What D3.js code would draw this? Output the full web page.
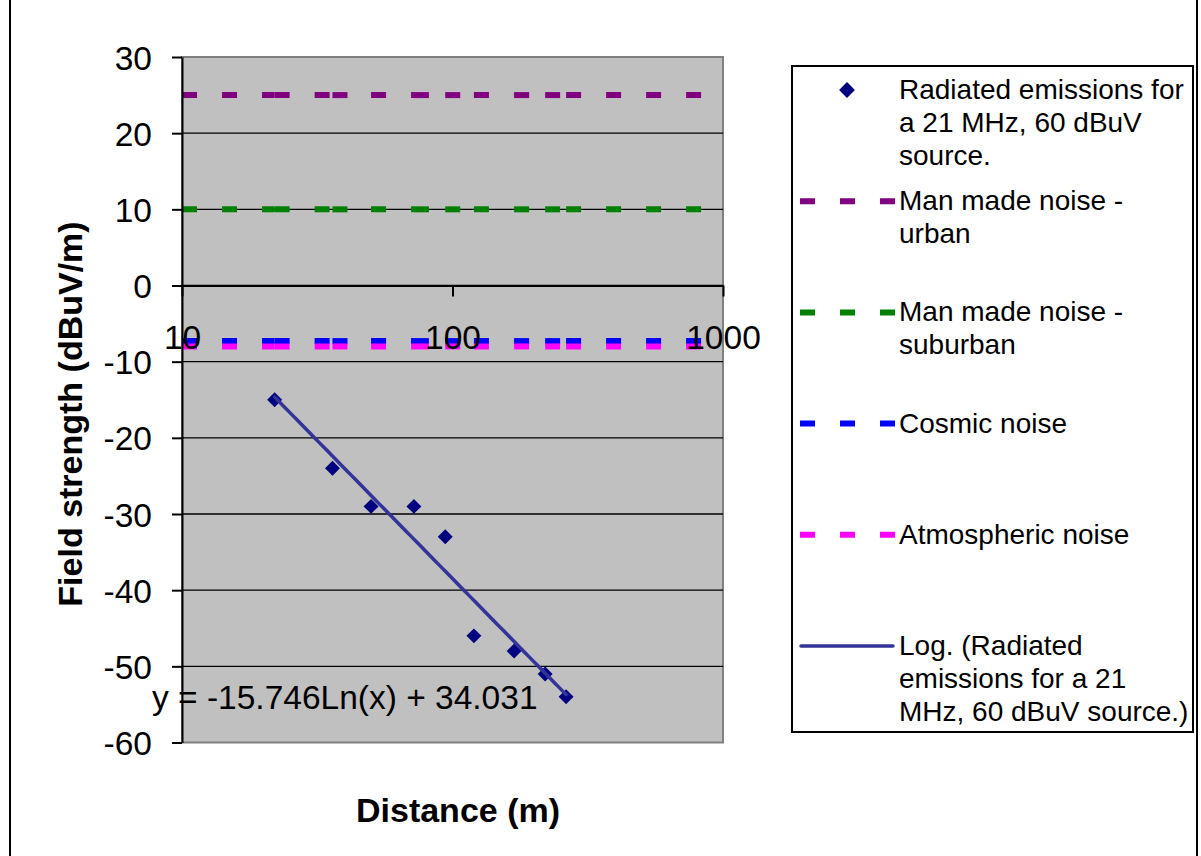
<!DOCTYPE html>
<html>
<head>
<meta charset="utf-8">
<script src="https://cdn.jsdelivr.net/npm/d3@7"></script>
<style>
  body { margin: 0; background: #fff; }
  text { font-family: "Liberation Sans", Arial, sans-serif; }
</style>
</head>
<body>
<div id="grafico"></div>
<script>
// Measured radiated emissions (distance in m, field strength in dBuV/m)
const distances = [22, 36, 50, 72, 94, 120, 169, 220, 263];
const fieldStrength = [-15, -24, -29, -29, -33, -46, -48, -51, -54];

// Noise reference series (constant level at each distance)
const noiseDistances = [10, 22, 36, 50, 72, 94, 120, 169, 220, 263, 900];
const noiseNames = ["urban", "suburban", "cosmic", "atmospheric"];
const noiseLevels = [25, 10, -7.3, -8.0];

// Logarithmic trendline coefficients: y = a Ln(x) + b
const trendCoef = [-15.746, 34.031];

// Axis ticks
const yTicks = [30, 20, 10, 0, -10, -20, -30, -40, -50, -60];
const xTicks = [10, 100, 1000];

// Legend texts
const legendLabels = [
    ["Radiated emissions for", "a 21 MHz, 60 dBuV", "source."],
    ["Man made noise -", "urban"],
    ["Man made noise -", "suburban"],
    ["Cosmic noise"],
    ["Atmospheric noise"],
    ["Log. (Radiated", "emissions for a 21", "MHz, 60 dBuV source.)"]
];

const noiseColors = ["#800080", "#008000", "#0000ff", "#ff00ff"];
const markerColor = "#000080";
const trendColor = "#333399";

const svg = d3.select("#grafico")
    .append("svg")
    .attr("width", 1201)
    .attr("height", 856);

// Chart area border
svg.append("rect")
    .attr("x", 10).attr("y", -10)
    .attr("width", 1187).attr("height", 880)
    .attr("fill", "#fff")
    .attr("stroke", "#000")
    .attr("stroke-width", 2);

const xScale = d3.scaleLog().domain([10, 1000]).range([182, 723]);
const yScale = d3.scaleLinear().domain([-60, 30]).range([742.5, 57]);

// Plot area
svg.append("rect")
    .attr("x", 182).attr("y", 57)
    .attr("width", 723 - 182).attr("height", 742.5 - 57)
    .attr("fill", "#c0c0c0")
    .attr("stroke", "#808080")
    .attr("stroke-width", 2);

// Gridlines
svg.selectAll(".grid")
    .data(yTicks.filter(d => d < 30 && d > -60))
    .enter()
    .append("line")
    .attr("class", "grid")
    .attr("x1", 182).attr("x2", 723)
    .attr("y1", d => yScale(d)).attr("y2", d => yScale(d))
    .attr("stroke", "#000")
    .attr("stroke-width", 1.4);

// Noise lines: each segment restarts the dash pattern, like Excel does
noiseLevels.forEach(function(level, i) {
    const segs = d3.pairs(noiseDistances);
    svg.append("g")
        .selectAll("line")
        .data(segs)
        .enter()
        .append("line")
        .attr("x1", d => xScale(d[0]))
        .attr("x2", d => xScale(d[1]))
        .attr("y1", yScale(level))
        .attr("y2", yScale(level))
        .attr("stroke", noiseColors[i])
        .attr("stroke-width", 6)
        .attr("stroke-dasharray", "15,25");
});

// Y axis
const yAxis = svg.append("g")
    .attr("transform", "translate(182, 0)")
    .call(d3.axisLeft(yScale).tickValues(yTicks).tickFormat(d => String(d))
        .tickSize(10).tickSizeOuter(0).tickPadding(20));
yAxis.select(".domain").attr("stroke", "#000").attr("stroke-width", 2);
yAxis.selectAll(".tick line").attr("stroke", "#000").attr("stroke-width", 2);
yAxis.selectAll(".tick text")
    .attr("dy", "0.36em")
    .style("font-size", "33.5px")
    .style("font-family", "'Liberation Sans', Arial, sans-serif")
    .attr("fill", "#000");

// Scatter points
const puntos = distances.map((d, i) => ({x: d, y: fieldStrength[i]}));
svg.selectAll(".punto")
    .data(puntos)
    .enter()
    .append("path")
    .attr("class", "punto")
    .attr("d", d3.symbol(d3.symbolSquare, 112))
    .attr("transform", d => "translate(" + xScale(d.x) + "," + yScale(d.y) + ") rotate(45)")
    .attr("fill", markerColor);

// Log trendline between the first and last measured distances
const xMin = d3.min(distances), xMax = d3.max(distances);
const trendPts = d3.range(0, 81).map(i => xMin * Math.pow(xMax / xMin, i / 80));
const trendLine = d3.line()
    .x(d => xScale(d))
    .y(d => yScale(trendCoef[0] * Math.log(d) + trendCoef[1]));
svg.append("path")
    .datum(trendPts)
    .attr("fill", "none")
    .attr("stroke", trendColor)
    .attr("stroke-width", 3.5)
    .attr("stroke-linecap", "round")
    .attr("d", trendLine);

// X axis crossing at y = 0
const xAxis = svg.append("g")
    .attr("transform", "translate(0," + yScale(0) + ")")
    .call(d3.axisBottom(xScale).tickValues(xTicks).tickFormat(d => String(d))
        .tickSize(11).tickSizeOuter(0).tickPadding(29));
xAxis.select(".domain").attr("stroke", "#000").attr("stroke-width", 2);
xAxis.selectAll(".tick line").attr("stroke", "#000").attr("stroke-width", 2);
xAxis.selectAll(".tick text")
    .style("font-size", "33.5px")
    .style("font-family", "'Liberation Sans', Arial, sans-serif")
    .attr("fill", "#000");

// Trendline equation
svg.append("text")
    .attr("x", 152)
    .attr("y", 709)
    .style("font-size", "33.5px")
    .text("y = " + trendCoef[0] + "Ln(x) + " + trendCoef[1]);

// Axis titles
svg.append("text")
    .attr("x", 458)
    .attr("y", 822)
    .style("text-anchor", "middle")
    .style("font-size", "34px")
    .style("font-weight", "bold")
    .text("Distance (m)");

svg.append("text")
    .attr("transform", "translate(82, 414) rotate(-90)")
    .style("text-anchor", "middle")
    .style("font-size", "34px")
    .style("font-weight", "bold")
    .text("Field strength (dBuV/m)");

// Legend
svg.append("rect")
    .attr("x", 792).attr("y", 66)
    .attr("width", 401).attr("height", 666)
    .attr("fill", "#fff")
    .attr("stroke", "#000")
    .attr("stroke-width", 2);

const leyenda = svg.selectAll(".leyenda")
    .data(legendLabels)
    .enter()
    .append("g")
    .attr("class", "leyenda")
    .attr("transform", (d, i) => "translate(0," + (90 + 111.2 * i) + ")");

leyenda.each(function(lines, i) {
    const g = d3.select(this);
    if (i === 0) {
        g.append("path")
            .attr("d", d3.symbol(d3.symbolSquare, 125))
            .attr("transform", "translate(847,0) rotate(45)")
            .attr("fill", markerColor);
    } else if (i <= 4) {
        g.append("line")
            .attr("x1", 800).attr("x2", 895)
            .attr("y1", 0).attr("y2", 0)
            .attr("stroke", noiseColors[i - 1])
            .attr("stroke-width", 6)
            .attr("stroke-dasharray", "15,25");
    } else {
        g.append("line")
            .attr("x1", 801).attr("x2", 893)
            .attr("y1", 0).attr("y2", 0)
            .attr("stroke", trendColor)
            .attr("stroke-width", 3.5)
            .attr("stroke-linecap", "round");
    }
    g.selectAll("text")
        .data(lines)
        .enter()
        .append("text")
        .attr("x", 899)
        .attr("y", (d, j) => 9 + 33 * j)
        .style("font-size", "28px")
        .text(d => d);
});
</script>
</body>
</html>
